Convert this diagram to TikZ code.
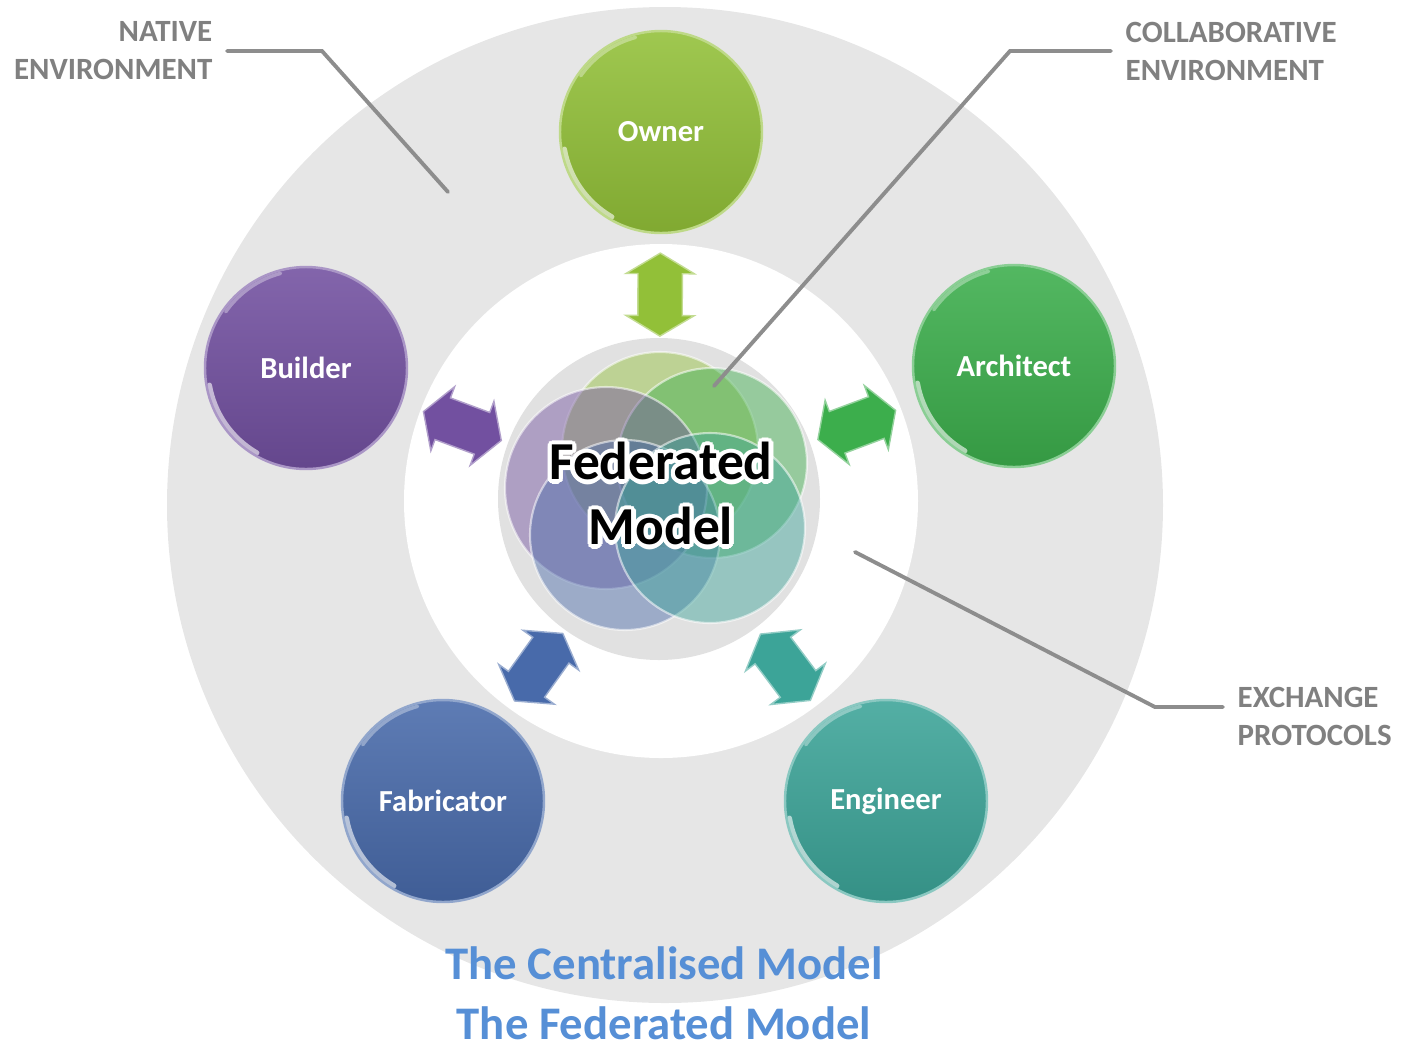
\documentclass[tikz,border=0pt]{standalone}
\usepackage{fontspec}
\setmainfont{Carlito}
\usepackage[copies]{contour}
\usetikzlibrary{shapes.arrows}

\definecolor{ringgray}{RGB}{230,230,230}
\definecolor{hubgray}{RGB}{225,225,225}
\definecolor{notegray}{RGB}{128,128,128}
\definecolor{titleblue}{RGB}{86,143,214}
\definecolor{ownerclr}{RGB}{146,192,56}
\definecolor{architectclr}{RGB}{60,174,76}
\definecolor{builderclr}{RGB}{114,80,160}
\definecolor{fabricatorclr}{RGB}{72,106,170}
\definecolor{engineerclr}{RGB}{60,164,152}
\contourlength{1.2pt}

\begin{document}
\begin{tikzpicture}[
  rolecircle/.style={circle, minimum size=2.02cm, inner sep=0pt,
    top color=#1!88!white, bottom color=#1!88!black,
    draw=#1!60!white, line width=0.7pt,
    text=white, font=\fontsize{8.7}{10}\selectfont\bfseries,
    path picture={
      \draw[white, opacity=.6, line width=1.4pt, line cap=round]
        ([shift={(190:0.98)}]path picture bounding box.center) arc (190:240:0.98);
      \draw[white, opacity=.35, line width=1pt, line cap=round]
        ([shift={(105:0.98)}]path picture bounding box.center) arc (105:145:0.98);}},
  linkarrow/.style={double arrow, fill=#1, draw=#1!55!white, line width=0.4pt,
    minimum height=0.83cm, minimum width=0.67cm, inner xsep=0pt, inner ysep=0.215cm,
    double arrow head extend=0.12cm, double arrow tip angle=118},
  hubtint/.style={fill=#1, fill opacity=0.45, draw=white, draw opacity=0.55, line width=0.6pt},
  notelabel/.style={text=notegray, font=\fontsize{8.8}{10.8}\selectfont\bfseries, inner sep=1.4mm},
  leaderline/.style={draw=notegray!90!white, line width=1.1pt, line cap=round}
]
\useasboundingbox (0,0) rectangle (14.02,-10.47);

% grey ring with the white exchange band inside
\fill[ringgray] (6.65,-5.05) circle (4.98);
\fill[white] (6.61,-5.01) circle (2.57);
\node[circle, fill=hubgray, minimum size=3.22cm, inner sep=0pt] (fed) at (6.59,-4.99) {};

% the five discipline models overlapping in the hub
\filldraw[hubtint=ownerclr] (6.60,-4.50) circle (0.98);
\filldraw[hubtint=architectclr] (7.12,-4.63) circle (0.95);
\filldraw[hubtint=builderclr] (6.06,-4.88) circle (1.01);
\filldraw[hubtint=fabricatorclr] (6.25,-5.35) circle (0.95);
\filldraw[hubtint=engineerclr] (7.10,-5.28) circle (0.95);

% the parties
\node[rolecircle=ownerclr] (owner) at (6.61,-1.32) {Owner};
\node[rolecircle=architectclr] (architect) at (10.14,-3.66) {Architect};
\node[rolecircle=builderclr] (builder) at (3.06,-3.68) {Builder};
\node[rolecircle=fabricatorclr] (fabricator) at (4.43,-8.01) {Fabricator};
\node[rolecircle=engineerclr] (engineer) at (8.86,-8.01) {Engineer};

% exchange arrows between hub and parties
\path (fed.center) -- (owner.center) node[linkarrow=ownerclr, sloped, pos=.557] (ownerlink) {};
\path (fed.center) -- (architect.center) node[linkarrow=architectclr, sloped, pos=.557] (architectlink) {};
\path (fed.center) -- (builder.center) node[linkarrow=builderclr, sloped, pos=.557] (builderlink) {};
\path (fed.center) -- (fabricator.center) node[linkarrow=fabricatorclr, sloped, pos=.557] (fabricatorlink) {};
\path (fed.center) -- (engineer.center) node[linkarrow=engineerclr, sloped, pos=.557] (engineerlink) {};

\node[font=\fontsize{15.2}{18.5}\selectfont\bfseries, align=center] (fedtext) at (6.61,-4.96)
  {\contour{white}{Federated}\\\contour{white}{Model}};

% callouts
\node[notelabel, align=right, anchor=east] (native) at (2.27,-0.51) {NATIVE\\ENVIRONMENT};
\node[notelabel, align=left, anchor=west] (collab) at (11.11,-0.51) {COLLABORATIVE\\ENVIRONMENT};
\node[notelabel, align=left, anchor=west] (exch) at (12.23,-7.16) {EXCHANGE\\PROTOCOLS};
\coordinate (nativeend) at (4.48,-1.92);
\coordinate (collabend) at (7.14,-3.86);
\coordinate (exchend) at (8.55,-5.52);
\draw[leaderline] (native.east) -- ++(0.95,0) -- (nativeend);
\draw[leaderline] (collab.west) -- ++(-1.01,0) -- (collabend);
\draw[leaderline] ([yshift=0.09cm]exch.west) -- ++(-0.68,0) -- (exchend);

% titles
\node[font=\fontsize{13.3}{17.1}\selectfont\bfseries, text=titleblue, align=center, inner sep=0pt] (title) at (6.64,-9.93)
  {The Centralised Model\\The Federated Model};
\end{tikzpicture}
\end{document}
